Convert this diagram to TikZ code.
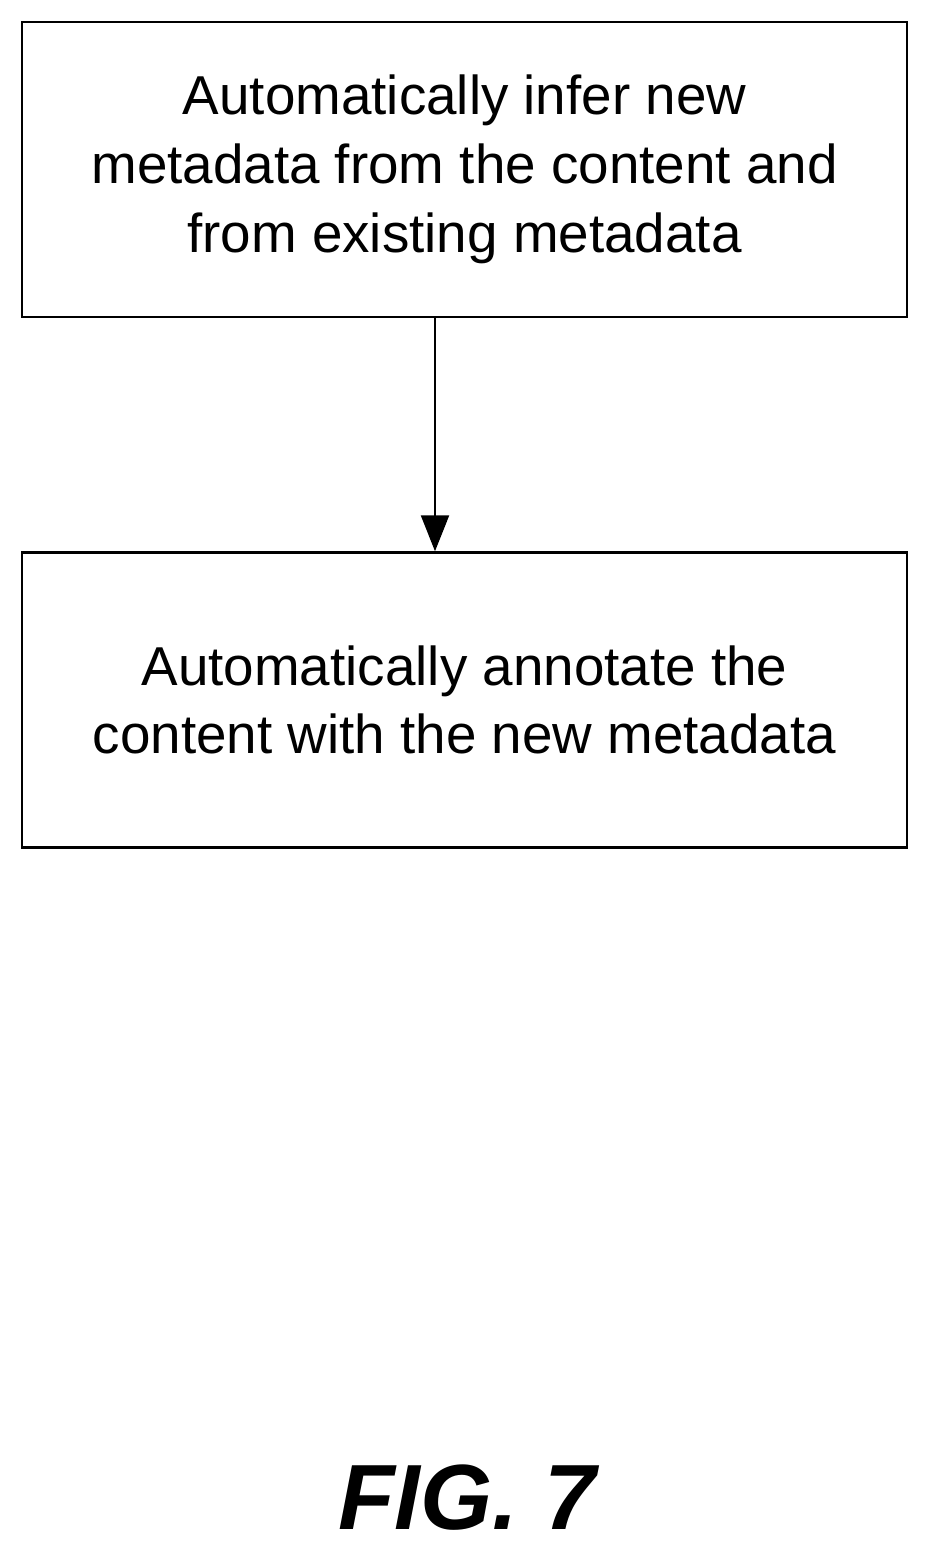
\documentclass[tikz,border=0pt]{standalone}
\usepackage{fontspec}
\setmainfont{Liberation Sans}
\usetikzlibrary{arrows.meta}
\begin{document}
\begin{tikzpicture}[x=1bp,y=-1bp,
  box/.style={draw,line width=2.5bp,minimum width=885bp,minimum height=295bp,align=center,font=\fontsize{55}{69}\selectfont,inner sep=0pt},
  conn/.style={line width=2.5bp,-{Triangle[length=36bp,width=28bp]}}]
\useasboundingbox (0,0) rectangle (929,1555);
\node[box] (a) at (464.5,169.5) {Automatically infer new\\metadata from the content and\\from existing metadata};
\node[box] (b) at (464.5,700) {Automatically annotate the\\content with the new metadata};
\draw[conn] (a.south -| 435,0) -- (b.north -| 435,0);
\node[font=\fontsize{93}{100}\selectfont\bfseries\itshape] (f) at (467,1498) {FIG. 7};
\end{tikzpicture}
\end{document}
